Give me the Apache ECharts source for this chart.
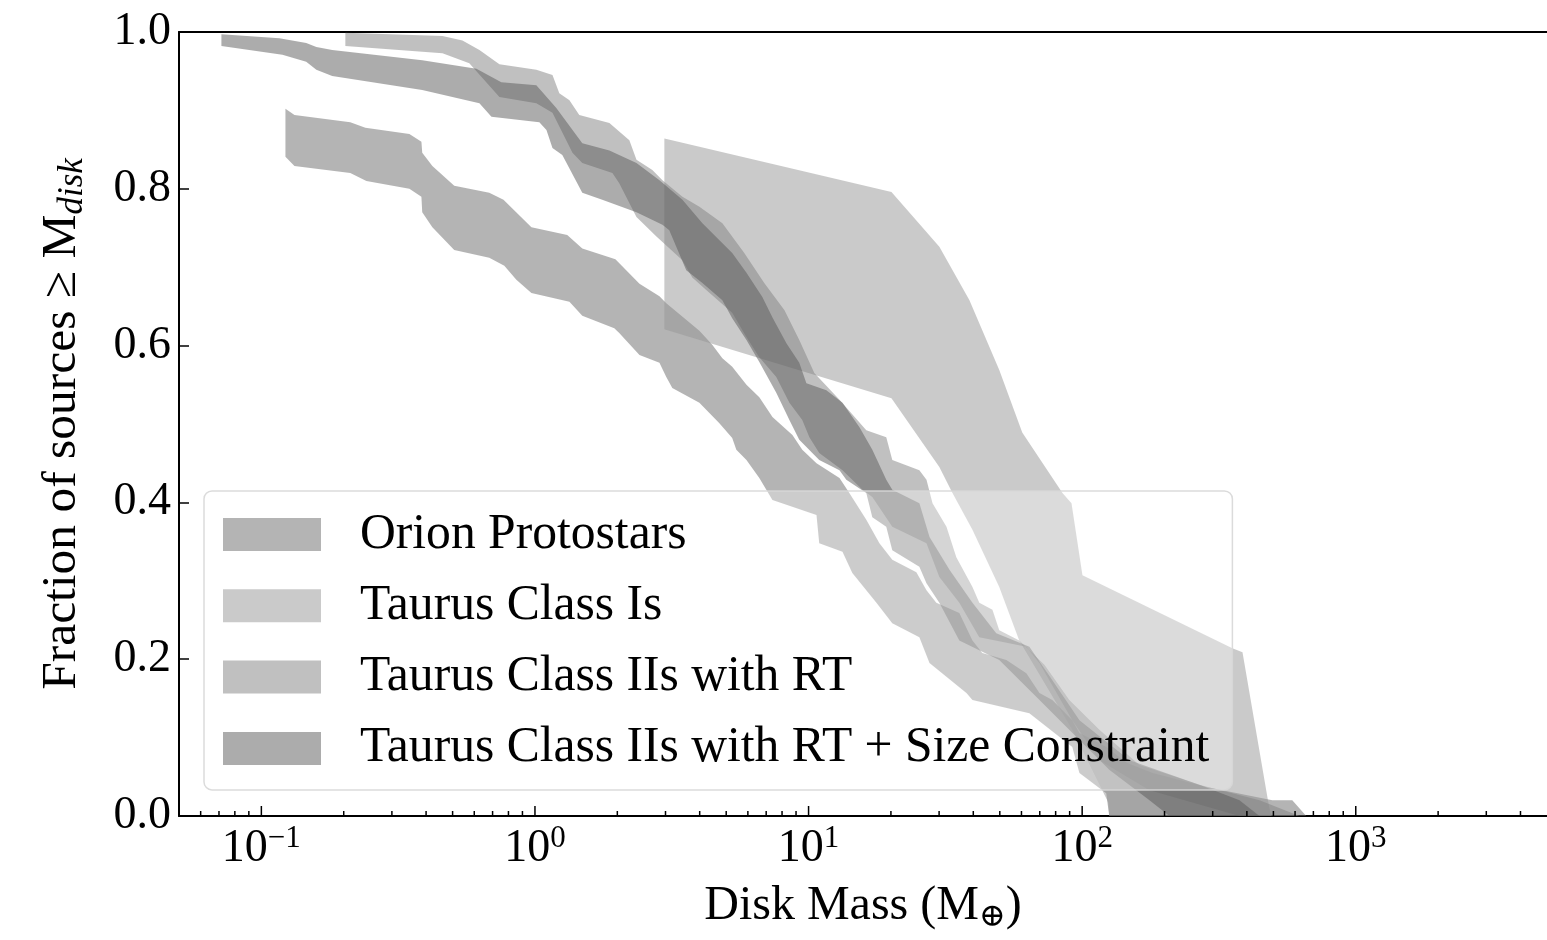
<!DOCTYPE html>
<html>
<head>
<meta charset="utf-8">
<script src="https://cdn.jsdelivr.net/npm/echarts@6/dist/echarts.min.js"></script>
<style>
  html, body { margin: 0; padding: 0; background: #ffffff; }
  #chart { width: 1547px; height: 940px; }
</style>
</head>
<body>
<div id="chart"></div>
<script>
// Cumulative disk-mass distributions, drawn as bands (upper / lower bound).
// Each point: [log10 disk mass (Earth masses), fraction of sources >= M_disk]

const orionUpper = [[-0.912,0.902],[-0.879,0.894],[-0.675,0.885],[-0.620,0.878],[-0.459,0.870],[-0.415,0.860],[-0.412,0.846],[-0.375,0.829],[-0.295,0.804],[-0.167,0.795],[-0.115,0.786],[-0.013,0.751],[0.118,0.741],[0.173,0.724],[0.294,0.710],[0.382,0.679],[0.455,0.663],[0.480,0.654],[0.601,0.619],[0.648,0.601],[0.685,0.584],[0.721,0.573],[0.773,0.550],[0.820,0.534],[0.868,0.509],[0.941,0.486],[0.977,0.467],[1.029,0.450],[1.113,0.431],[1.149,0.412],[1.211,0.378],[1.259,0.348],[1.306,0.327],[1.394,0.311],[1.431,0.288],[1.467,0.272],[1.551,0.259],[1.599,0.224],[1.635,0.208],[1.723,0.199],[1.796,0.182],[1.844,0.157],[1.891,0.148],[1.964,0.122],[1.990,0.106],[2.088,0.088],[2.162,0.068],[2.257,0.055],[2.454,0.037],[2.695,0.020],[2.768,0.020],[2.819,0]];
const orionLower = [[-0.912,0.841],[-0.879,0.829],[-0.675,0.820],[-0.616,0.810],[-0.459,0.800],[-0.415,0.790],[-0.412,0.770],[-0.375,0.751],[-0.295,0.722],[-0.167,0.712],[-0.112,0.702],[-0.068,0.684],[-0.013,0.667],[0.126,0.656],[0.173,0.638],[0.290,0.622],[0.308,0.616],[0.382,0.588],[0.455,0.578],[0.480,0.560],[0.502,0.546],[0.601,0.527],[0.674,0.501],[0.721,0.482],[0.736,0.467],[0.773,0.454],[0.820,0.431],[0.868,0.403],[1.029,0.384],[1.039,0.348],[1.124,0.337],[1.160,0.310],[1.248,0.272],[1.306,0.246],[1.405,0.228],[1.442,0.195],[1.577,0.157],[1.599,0.148],[1.807,0.131],[1.964,0.088],[1.990,0.055],[2.088,0.029],[2.099,0]];

const taurusIUpper = [[0.473,0.864],[1.303,0.796],[1.478,0.726],[1.588,0.658],[1.697,0.569],[1.781,0.489],[1.928,0.412],[1.961,0.399],[2.001,0.307],[2.549,0.214],[2.586,0.209],[2.684,0.010],[2.692,0]];
const taurusILower = [[0.473,0.621],[1.303,0.533],[1.478,0.445],[1.526,0.412],[1.599,0.365],[1.697,0.292],[1.770,0.224],[1.964,0.110],[2.096,0.017],[2.099,0],[2.692,0]];

const taurusIIUpper = [[-0.693,0.999],[-0.338,0.995],[-0.265,0.989],[-0.203,0.977],[-0.130,0.959],[0.005,0.952],[0.064,0.945],[0.089,0.922],[0.126,0.913],[0.162,0.894],[0.272,0.884],[0.345,0.862],[0.371,0.837],[0.429,0.824],[0.466,0.811],[0.539,0.790],[0.601,0.777],[0.685,0.756],[0.765,0.718],[0.838,0.680],[0.912,0.645],[0.966,0.607],[1.021,0.565],[1.113,0.531],[1.211,0.492],[1.284,0.483],[1.306,0.454],[1.405,0.441],[1.431,0.429],[1.453,0.399],[1.504,0.369],[1.540,0.330],[1.599,0.292],[1.624,0.272],[1.672,0.263],[1.697,0.237],[1.770,0.224],[1.862,0.193],[1.953,0.148],[2.063,0.110],[2.209,0.065],[2.428,0.040],[2.648,0.020],[2.794,0]];
const taurusIILower = [[-0.693,0.982],[-0.338,0.973],[-0.240,0.960],[-0.130,0.917],[0.005,0.909],[0.064,0.897],[0.137,0.846],[0.173,0.833],[0.283,0.820],[0.308,0.807],[0.371,0.764],[0.444,0.739],[0.539,0.709],[0.575,0.687],[0.626,0.671],[0.721,0.642],[0.773,0.611],[0.820,0.585],[0.882,0.560],[0.930,0.527],[0.977,0.505],[1.003,0.483],[1.039,0.463],[1.124,0.441],[1.197,0.416],[1.233,0.407],[1.306,0.369],[1.431,0.348],[1.478,0.305],[1.551,0.272],[1.624,0.228],[1.796,0.216],[1.844,0.195],[1.964,0.122],[2.063,0.071],[2.246,0.033],[2.575,0]];

const taurusIISizeUpper = [[-1.146,0.997],[-0.934,0.992],[-0.836,0.986],[-0.799,0.981],[-0.741,0.977],[-0.412,0.964],[-0.214,0.953],[-0.123,0.936],[0.005,0.932],[0.078,0.903],[0.173,0.858],[0.272,0.849],[0.371,0.833],[0.455,0.811],[0.539,0.786],[0.612,0.756],[0.721,0.718],[0.773,0.693],[0.831,0.662],[0.868,0.636],[0.919,0.603],[0.966,0.578],[0.992,0.552],[1.065,0.543],[1.124,0.527],[1.186,0.496],[1.233,0.467],[1.284,0.429],[1.306,0.416],[1.405,0.399],[1.442,0.356],[1.515,0.314],[1.599,0.272],[1.686,0.233],[1.807,0.216],[1.891,0.173],[1.990,0.122],[2.173,0.071],[2.428,0.040],[2.575,0.020],[2.648,0]];
const taurusIISizeLower = [[-1.146,0.982],[-0.923,0.971],[-0.836,0.962],[-0.799,0.952],[-0.741,0.944],[-0.412,0.926],[-0.203,0.909],[-0.159,0.892],[0.016,0.885],[0.042,0.875],[0.064,0.852],[0.100,0.843],[0.173,0.795],[0.246,0.786],[0.371,0.770],[0.466,0.754],[0.491,0.747],[0.553,0.696],[0.612,0.680],[0.685,0.658],[0.721,0.635],[0.773,0.607],[0.820,0.579],[0.882,0.540],[0.930,0.505],[0.966,0.480],[1.039,0.454],[1.113,0.441],[1.138,0.429],[1.211,0.412],[1.233,0.381],[1.284,0.369],[1.306,0.339],[1.405,0.318],[1.431,0.297],[1.478,0.272],[1.551,0.224],[1.697,0.199],[1.844,0.148],[1.990,0.097],[2.099,0.059],[2.246,0.020],[2.319,0]];

const seriesNames = ['Orion Protostars', 'Taurus Class Is', 'Taurus Class IIs with RT', 'Taurus Class IIs with RT + Size Constraint'];
const seriesColors = ['rgba(105,105,105,0.5)', 'rgba(149,149,149,0.5)', 'rgba(129,129,129,0.5)', 'rgba(89,89,89,0.5)'];
const bands = [[orionUpper, orionLower], [taurusIUpper, taurusILower], [taurusIIUpper, taurusIILower], [taurusIISizeUpper, taurusIISizeLower]];

// x axis: decade labels and the tick marks of a log axis
const massTickValues = [0.1, 1, 10, 100, 1000];
const massTickExponents = ['−1', '0', '1', '2', '3'];
const massMinorTicks = [0.06, 0.07, 0.08, 0.09, 0.2, 0.3, 0.4, 0.5, 0.6, 0.7, 0.8, 0.9, 2, 3, 4, 5, 6, 7, 8, 9, 20, 30, 40, 50, 60, 70, 80, 90, 200, 300, 400, 500, 600, 700, 800, 900, 2000, 3000, 4000];
const fractionTicks = ['0.0', '0.2', '0.4', '0.6', '0.8', '1.0'];

const FONT = '"Liberation Serif", "DejaVu Serif", serif';

// polygon outline: upper bound left->right, then lower bound right->left
function bandPolygon(upper, lower) {
  const pts = upper.map(p => [Math.pow(10, p[0]), p[1]]);
  for (let i = lower.length - 1; i >= 0; i--) pts.push([Math.pow(10, lower[i][0]), lower[i][1]]);
  return pts;
}

const series = bands.map((b, k) => {
  const poly = bandPolygon(b[0], b[1]);
  return {
    type: 'custom',
    name: seriesNames[k],
    coordinateSystem: 'cartesian2d',
    xAxisIndex: 0,
    yAxisIndex: 0,
    silent: true,
    z: 2 + k * 0.01,
    itemStyle: { color: seriesColors[k] },
    data: poly,
    encode: { x: 0, y: 1 },
    renderItem: function (params, api) {
      if (params.dataIndex !== 0) return null;
      const pts = poly.map(p => api.coord(p));
      return { type: 'polygon', shape: { points: pts }, style: { fill: seriesColors[k], stroke: null } };
    }
  };
});

// tick marks along the log axis, pointing inward
const tickData = massTickValues.map(v => [v, 0, 10]).concat(massMinorTicks.map(v => [v, 0, 5]));
series.push({
  type: 'custom',
  name: 'ticks',
  coordinateSystem: 'cartesian2d',
  silent: true,
  z: 10,
  data: tickData,
  encode: { x: 0, y: 1 },
  renderItem: function (params, api) {
    const p = api.coord([api.value(0), 0]);
    const len = api.value(2);
    return {
      type: 'line',
      shape: { x1: p[0], y1: p[1], x2: p[0], y2: p[1] - len },
      style: { stroke: '#000', lineWidth: 1.5 }
    };
  }
});

const chart = echarts.init(document.getElementById('chart'), null, { renderer: 'canvas' });
chart.setOption({
  backgroundColor: '#ffffff',
  animation: false,
  grid: { left: 179, right: 0, top: 32, bottom: 124, containLabel: false, outerBoundsMode: 'none' },
  legend: {
    orient: 'vertical',
    left: 204,
    top: 491,
    padding: [18.5, 23, 16.5, 19],
    itemGap: 21.3,
    itemWidth: 98,
    itemHeight: 33,
    icon: 'rect',
    data: seriesNames,
    backgroundColor: 'rgba(255,255,255,0.33)',
    borderColor: 'rgba(215,215,215,0.9)',
    borderWidth: 1.5,
    borderRadius: 8,
    selectedMode: false,
    itemStyle: { borderWidth: 0 },
    formatter: name => '{g|}{t|' + name + '}',
    textStyle: {
      lineHeight: 33,
      rich: {
        g: { width: 34, lineHeight: 33 },
        t: { fontFamily: FONT, fontSize: 49.6, color: '#000', lineHeight: 33 }
      }
    }
  },
  xAxis: [{
    type: 'log',
    logBase: 10,
    min: 0.05,
    max: 5000,
    position: 'bottom',
    name: '{n|Disk Mass (M}{s|⊕}{n|)}',
    nameLocation: 'middle',
    nameGap: 62,
    nameTextStyle: {
      rich: {
        n: { fontFamily: FONT, fontSize: 48, color: '#000', lineHeight: 56, verticalAlign: 'middle' },
        s: { fontFamily: FONT, fontSize: 32, color: '#000', lineHeight: 24, verticalAlign: 'bottom' }
      }
    },
    axisLine: { show: true, lineStyle: { color: '#000', width: 2 } },
    axisTick: { show: false },
    splitLine: { show: false },
    minorTick: { show: false },
    axisLabel: {
      margin: 7,
      formatter: function (v) {
        const e = Math.log10(v);
        for (let i = 0; i < massTickValues.length; i++) {
          if (Math.abs(Math.log10(massTickValues[i]) - e) < 1e-6) return '{b|10}{s|' + massTickExponents[i] + '}';
        }
        return '';
      },
      rich: {
        b: { fontFamily: FONT, fontSize: 46, color: '#000', lineHeight: 52, verticalAlign: 'middle' },
        s: { fontFamily: FONT, fontSize: 31, color: '#000', lineHeight: 26, verticalAlign: 'top' }
      }
    }
  }, {
    type: 'value',
    position: 'top',
    min: 0,
    max: 1,
    axisLine: { show: true, lineStyle: { color: '#000', width: 2 } },
    axisTick: { show: false },
    axisLabel: { show: false },
    splitLine: { show: false }
  }],
  yAxis: {
    type: 'value',
    min: 0,
    max: 1,
    interval: 0.2,
    name: '{n|Fraction of sources ≥ M}{s|disk}',
    nameLocation: 'middle',
    nameRotate: 90,
    nameGap: 89,
    nameTextStyle: {
      rich: {
        n: { fontFamily: FONT, fontSize: 49.5, color: '#000', lineHeight: 56, verticalAlign: 'middle' },
        s: { fontFamily: FONT, fontSize: 35, fontStyle: 'italic', color: '#000', lineHeight: 26, verticalAlign: 'bottom' }
      }
    },
    axisLine: { show: true, lineStyle: { color: '#000', width: 2 } },
    axisTick: { show: true, inside: true, length: 10, lineStyle: { color: '#000', width: 1.5 } },
    splitLine: { show: false },
    axisLabel: {
      margin: 8,
      fontFamily: FONT,
      fontSize: 46,
      color: '#000',
      formatter: v => fractionTicks[Math.round(v * 5)]
    }
  },
  series: series
});
</script>
</body>
</html>
